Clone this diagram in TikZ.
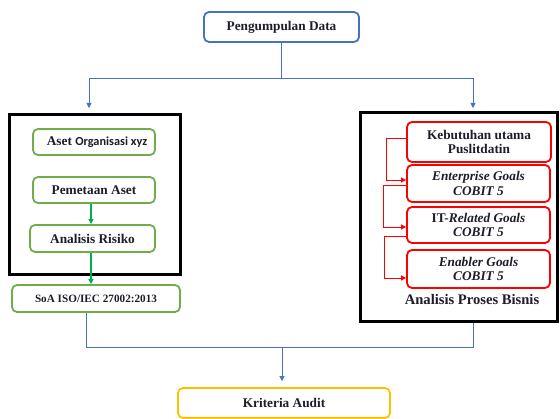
\documentclass[tikz,border=0pt]{standalone}
\usepackage{fontspec}
\setmainfont{Liberation Serif}
\newfontfamily\calib{Carlito}
\usetikzlibrary{arrows.meta}
\definecolor{bl}{HTML}{4472C4}
\definecolor{gr}{HTML}{70AD47}
\definecolor{ga}{HTML}{00B050}
\definecolor{rd}{HTML}{FF0000}
\definecolor{yl}{HTML}{FFC000}
\definecolor{tx}{HTML}{1C1C2C}
\begin{document}
\begin{tikzpicture}[x=1pt,y=-1pt,
  box/.style={draw, rounded corners=5pt, line width=1.8pt, inner sep=0pt, align=center,
    font=\fontsize{13.3}{14.5}\selectfont\bfseries, text=tx},
  bbox/.style={box, draw=bl},
  gbox/.style={box, draw=gr},
  rbox/.style={box, draw=rd},
  ybox/.style={box, draw=yl},
  frame/.style={draw=black, line width=3pt, inner sep=0pt},
  blink/.style={draw=bl, line width=0.8pt},
  barrow/.style={blink, -{Triangle[length=5pt,width=5pt]}},
  garrow/.style={draw=ga, line width=1.3pt, -{Triangle[length=5pt,width=5pt]}},
  rarrow/.style={draw=rd, line width=0.8pt, -{Triangle[length=5pt,width=5pt]}}
]
\useasboundingbox (0,0) rectangle (560,419);

% top
\node[bbox, minimum width=155pt, minimum height=30pt] (pd) at (281.5,27) {Pengumpulan Data};

% frames
\node[frame, minimum width=171pt, minimum height=160pt] (lf) at (94.5,195) {};
\node[frame, minimum width=197pt, minimum height=209pt] (rf) at (458.5,217.5) {};

% left column
\node[gbox, minimum width=122pt, minimum height=26pt] (a1) at (94,142) {\hspace*{6pt}Aset {\calib\fontsize{12.3}{14}\selectfont Organisasi xyz}};
\node[gbox, minimum width=122pt, minimum height=26pt] (a2) at (94,190) {Pemetaan Aset};
\node[gbox, minimum width=125pt, minimum height=27pt] (a3) at (92.5,238.5) {Analisis Risiko};
\node[gbox, minimum width=168pt, minimum height=27pt, font=\fontsize{11.2}{13}\selectfont\bfseries] (soa) at (96,298.5) {SoA ISO/IEC 27002:2013};

% right column
\node[rbox, minimum width=144pt, minimum height=40pt] (r1) at (479,142) {Kebutuhan utama\\Puslitdatin};
\node[rbox, minimum width=143pt, minimum height=37pt] (r2) at (478.5,183.5) {\textit{Enterprise Goals}\\\textit{COBIT 5}};
\node[rbox, minimum width=143pt, minimum height=36pt] (r3) at (478.5,225) {IT-\textit{Related Goals}\\\textit{COBIT 5}};
\node[rbox, minimum width=143pt, minimum height=38pt] (r4) at (478.5,269) {\textit{Enabler Goals}\\\textit{COBIT 5}};
\node[font=\fontsize{14.6}{16}\selectfont\bfseries, text=tx] (apb) at (472,300) {Analisis Proses Bisnis};

% bottom
\node[ybox, minimum width=212pt, minimum height=30pt] (kr) at (284,403) {Kriteria Audit};

% top connectors
\coordinate (split) at (281.5,78);
\coordinate (lt) at (89,108);
\coordinate (rt) at (473,108);
\draw[blink] (pd.south) -- (split);
\draw[barrow] (split) -| (lt);
\draw[barrow] (split) -| (rt);

% green arrows
\draw[garrow] ([xshift=-3pt]a2.south) -- ([xshift=-3pt]a2.south |- a3.north);
\draw[garrow] ([xshift=-1.5pt]a3.south) -- ([xshift=-1.5pt]a3.south |- soa.north);

% red connectors
\draw[rarrow] ([yshift=4pt]r1.west) -- ++(-20,0) |- ([yshift=3.5pt]r2.west);
\draw[rarrow] ([yshift=-1.5pt]r2.west) -- ++(-23,0) |- ([yshift=-2pt]r3.west);
\draw[rarrow] ([yshift=-11pt]r3.west) -- ++(-22,0) |- ([yshift=-9pt]r4.west);

% bottom connectors
\coordinate (join) at (282,347);
\draw[blink] ([xshift=-10pt]soa.south) |- (join);
\draw[blink] ([xshift=14.5pt]rf.south) |- (join);
\draw[barrow, shorten >=6pt] (join) -- (join |- kr.north);
\end{tikzpicture}
\end{document}
